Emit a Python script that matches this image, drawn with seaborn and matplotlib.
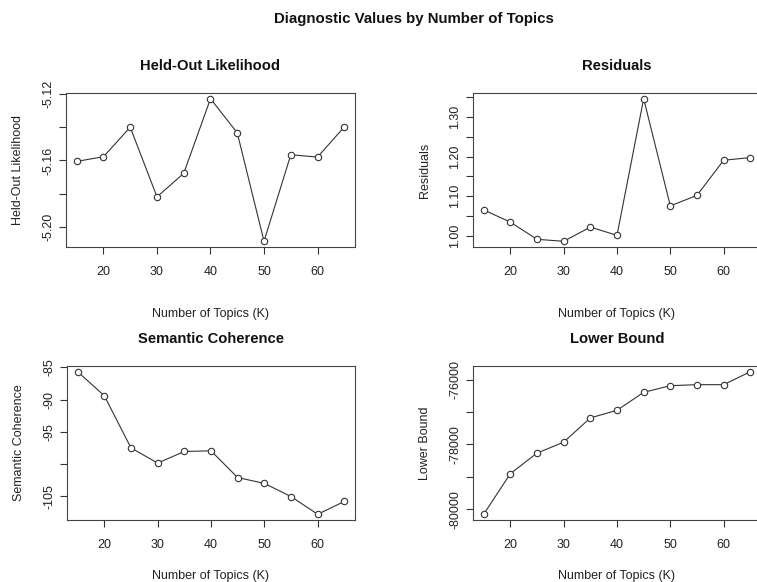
import matplotlib
matplotlib.use("Agg")
import matplotlib.pyplot as plt
import seaborn as sns
import pandas as pd

# number of topics tried
topics_k = [15, 20, 25, 30, 35, 40, 45, 50, 55, 60, 65]

# diagnostic values
heldout = [-5.1606, -5.1578, -5.1400, -5.1820, -5.1678, -5.1228,
           -5.1434, -5.2088, -5.1566, -5.1580, -5.1398]
residuals = [1.0658, 1.0350, 0.9917, 0.9867, 1.0225, 1.0017,
             1.3458, 1.0758, 1.1025, 1.1908, 1.1975]
semcoh = [-85.67, -89.40, -97.50, -99.85, -98.05, -97.95,
          -102.10, -103.00, -105.05, -107.80, -105.80]
lbound = [-80154, -78900, -78266, -77928, -77180, -76944,
          -76390, -76185, -76154, -76154, -75754]

x_ticks = [20, 30, 40, 50, 60]

sns.set_theme(style="ticks")
plt.rcParams["font.family"] = ["Liberation Sans", "DejaVu Sans"]

W, H = 757, 582
fig = plt.figure(figsize=(W / 100, H / 100), dpi=100)


def px_axes(x0, y0, x1, y1):
    return fig.add_axes([x0 / W, 1 - y1 / H, (x1 - x0) / W, (y1 - y0) / H])


panels = [
    # title, values, yticks, labelled yticks, box in pixels, xlabel pad
    ("Held-Out Likelihood", heldout,
     [-5.20, -5.18, -5.16, -5.14, -5.12], ["-5.20", "", "-5.16", "", "-5.12"],
     (66, 93, 355, 247), 22),
    ("Residuals", residuals,
     [1.00, 1.05, 1.10, 1.15, 1.20, 1.25, 1.30, 1.35],
     ["1.00", "", "1.10", "", "1.20", "", "1.30", ""],
     (473, 93, 761, 247), 22),
    ("Semantic Coherence", semcoh,
     [-105, -100, -95, -90, -85], ["-105", "", "-95", "-90", "-85"],
     (67, 366, 355, 520), 13.5),
    ("Lower Bound", lbound,
     [-80000, -79000, -78000, -77000, -76000],
     ["-80000", "", "-78000", "", "-76000"],
     (473, 366, 761, 520), 13.5),
]

ink = "#222222"

for title, vals, yt, ylabs, box, xpad in panels:
    ax = px_axes(*box)
    df = pd.DataFrame({"K": topics_k, "v": vals})
    sns.lineplot(data=df, x="K", y="v", ax=ax, color="#333333", lw=0.8,
                 marker="o", markersize=4.6, markerfacecolor="white",
                 markeredgecolor="#333333", markeredgewidth=0.8)
    lo, hi = min(vals), max(vals)
    pad = (hi - lo) * 0.04
    ax.set_ylim(lo - pad, hi + pad)
    ax.set_xlim(13, 67)
    ax.set_xticks(x_ticks)
    ax.set_yticks(yt)
    ax.set_yticklabels(ylabs, rotation=90, va="center")
    ax.tick_params(axis="both", length=5, width=0.8, color="#333333",
                   labelsize=9, labelcolor=ink)
    ax.tick_params(axis="x", pad=8.5)
    ax.tick_params(axis="y", pad=3.5)
    for s in ax.spines.values():
        s.set_visible(True)
        s.set_color("#444444")
        s.set_linewidth(0.8)
    ax.set_title(title, fontsize=10.6, fontweight="bold", color="#111111", pad=16.5)
    ax.set_xlabel("Number of Topics (K)", fontsize=9, color=ink, labelpad=xpad)
    ax.set_ylabel(title, fontsize=9, color=ink, labelpad=13)

fig.text(414 / W, 1 - 19 / H, "Diagnostic Values by Number of Topics",
         ha="center", va="center", fontsize=10.8, fontweight="bold", color="#111111")

fig.savefig("out.png", dpi=100)
